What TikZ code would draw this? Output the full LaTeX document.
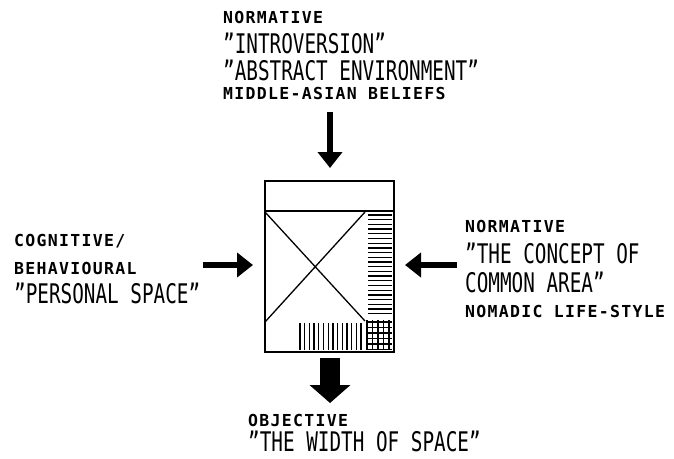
\documentclass[tikz,border=0pt]{standalone}
\usepackage{fontspec}
\usetikzlibrary{arrows.meta}
\newfontfamily\smallfont[FakeStretch=1.0,LetterSpace=8]{DejaVu Sans Mono Bold}
\newfontfamily\bigfont[FakeStretch=0.715]{DejaVu Sans Mono}
\begin{document}
\begin{tikzpicture}[x=1pt,y=-1pt,
  lab/.style={inner sep=0pt,anchor=base west,font=\smallfont\fontsize{16.5}{16.5}\selectfont},
  quo/.style={inner sep=0pt,anchor=base west,font=\bigfont\fontsize{27}{27}\selectfont},
  blockarrow/.style={line width=6pt,-{Triangle[width=24pt,length=16pt]}},
  fatarrow/.style={line width=20pt,-{Triangle[width=40pt,length=18pt]}},
  hatch/.style={line width=1.3pt}]
\useasboundingbox (0,0) rectangle (674,458);
% top text
\node[lab] (t1) at (223,23) {NORMATIVE};
\node[quo] (t2) at (223,53) {”INTROVERSION”};
\node[quo] (t3) at (223,80) {”ABSTRACT ENVIRONMENT”};
\node[lab] (t4) at (223,99) {MIDDLE-ASIAN BELIEFS};
% left text
\node[lab] (l1) at (14,246) {COGNITIVE/};
\node[lab] (l2) at (14,274) {BEHAVIOURAL};
\node[quo] (l3) at (14,303) {”PERSONAL SPACE”};
% right text
\node[lab] (r1) at (465,232) {NORMATIVE};
\node[quo] (r2) at (465,263) {”THE CONCEPT OF};
\node[quo] (r3) at (465,292) {COMMON AREA”};
\node[lab] (r4) at (465,317) {NOMADIC LIFE-STYLE};
% bottom text
\node[lab] (b1) at (248,426) {OBJECTIVE};
\node[quo] (b2) at (248,451) {”THE WIDTH OF SPACE”};
% plan box
\node[draw,line width=2pt,minimum width=129pt,minimum height=171pt,inner sep=0pt,anchor=north west] (box) at (264,180) {};
\draw[line width=1.5pt] (264,211) -- (393,211);
\draw[line width=1.3pt] (265,212) -- (365,321);
\draw[line width=1.3pt] (365,212) -- (265,322);
\foreach \y in {215,219.7,...,318} \draw[hatch] (368,\y) -- (392,\y);
\foreach \x in {300,304.7,...,364} \draw[hatch] (\x,323) -- (\x,350);
\foreach \x in {367,372.5,...,393} \draw[hatch] (\x,320) -- (\x,350);
\foreach \y in {322,327.5,...,350} \draw[hatch] (366,\y) -- (392,\y);
% arrows
\coordinate (ta) at (330,112);
\coordinate (tb) at (330,168);
\coordinate (la) at (203,265);
\coordinate (lb) at (253,265);
\coordinate (ra) at (457,265);
\coordinate (rb) at (405,265);
\coordinate (ba) at (330,358);
\coordinate (bb) at (330,403);
\draw[blockarrow] (ta) -- (tb);
\draw[blockarrow] (la) -- (lb);
\draw[blockarrow] (ra) -- (rb);
\draw[fatarrow] (ba) -- (bb);
\end{tikzpicture}
\end{document}
